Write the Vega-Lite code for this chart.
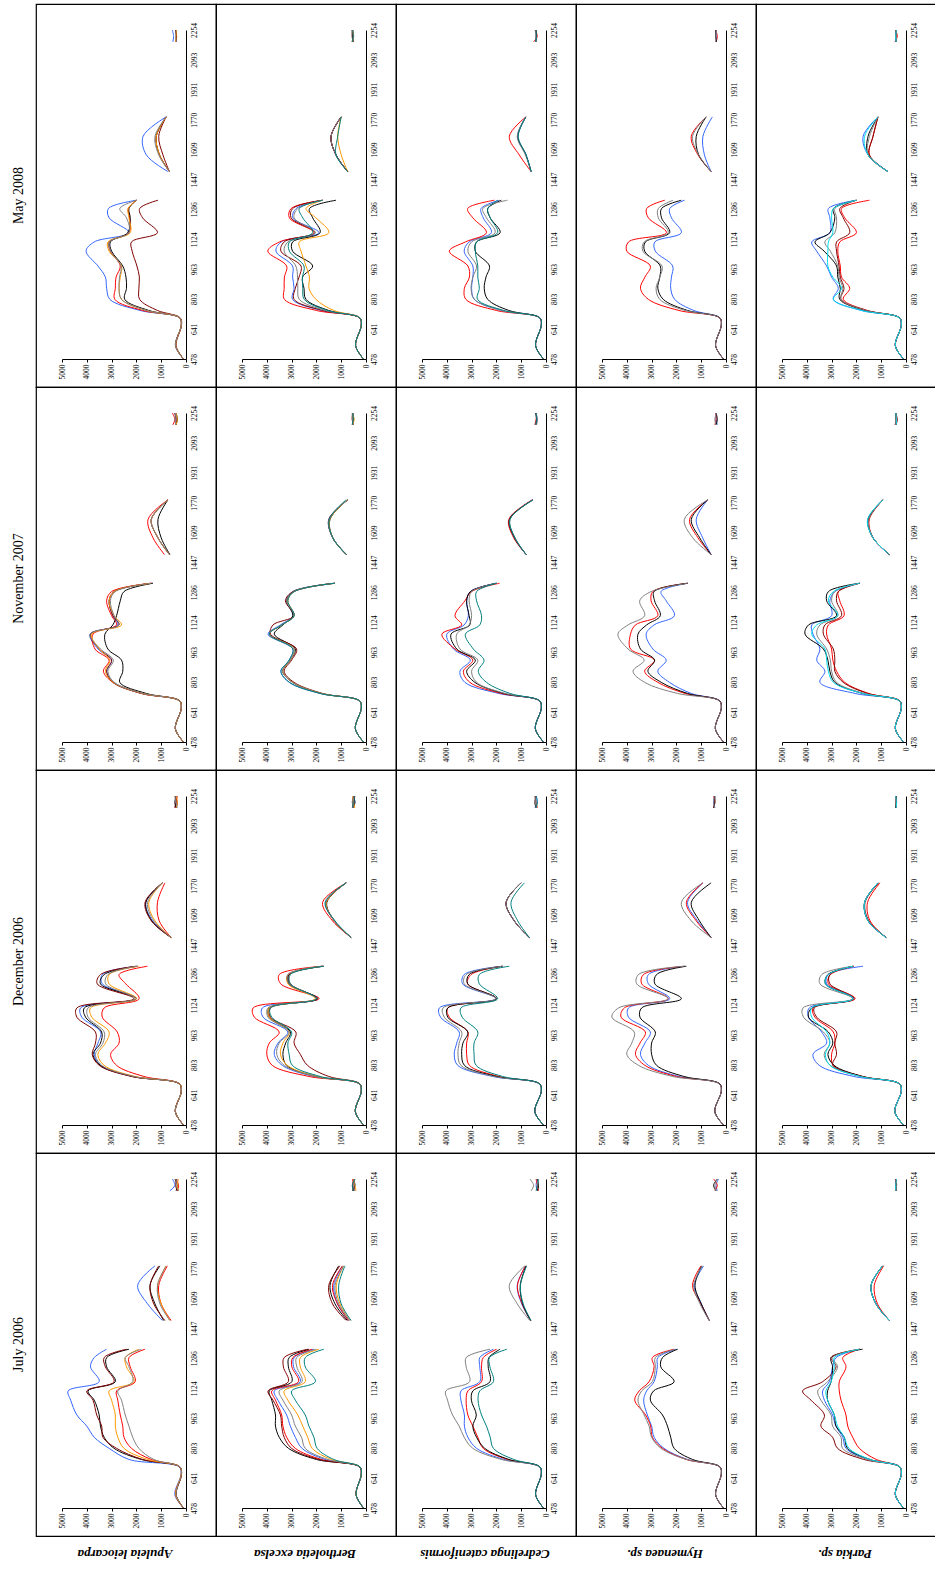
{
"$schema": "https://vega.github.io/schema/vega-lite/v6.json",
"padding": {"left": 2, "top": 3, "right": 0, "bottom": 0},
"background": "white",
"config": {
  "view": {"stroke": "#000", "strokeWidth": 1.2},
  "facet": {"spacing": 0},
  "concat": {"spacing": 0},
  "text": {"font": "Liberation Serif", "color": "#000"}
},
"datasets": {
"dates": [{"d":"M","label":"May 2008"},{"d":"N","label":"November 2007"},{"d":"D","label":"December 2006"},{"d":"J","label":"July 2006"}],
"species": [{"s":"A","label":"Apuleia  leiocarpa"},{"s":"B","label":"Bertholetia excelsa"},{"s":"C","label":"Cedrelinga cateniformis"},{"s":"H","label":"Hymenaea sp."},{"s":"P","label":"Parkia sp."}],
"spectra": [
{"d":"M","s":"A","w":478,"g":1,"b":100,"r":100,"o":100,"a":100,"k":100,"m":100},
{"d":"M","s":"A","w":550,"g":1,"b":430,"r":420,"o":420,"a":420,"k":420,"m":400},
{"d":"M","s":"A","w":660,"g":1,"b":190,"r":190,"o":190,"a":190,"k":190,"m":180},
{"d":"M","s":"A","w":700,"g":1,"b":260,"r":250,"o":250,"a":250,"k":250,"m":230},
{"d":"M","s":"A","w":740,"g":1,"b":1850,"r":1750,"o":1600,"a":1600,"k":1500,"m":1150},
{"d":"M","s":"A","w":800,"g":1,"b":3070,"r":2870,"o":2600,"a":2600,"k":2470,"m":1870},
{"d":"M","s":"A","w":860,"g":1,"b":3200,"r":2850,"o":2700,"a":2700,"k":2400,"m":1900},
{"d":"M","s":"A","w":920,"g":1,"b":3250,"r":2820,"o":2650,"a":2680,"k":2420,"m":1880},
{"d":"M","s":"A","w":980,"g":1,"b":3550,"r":2650,"o":2600,"a":2620,"k":2550,"m":1980},
{"d":"M","s":"A","w":1060,"g":1,"b":4030,"r":3050,"o":3100,"a":3050,"k":3000,"m":2170},
{"d":"M","s":"A","w":1110,"g":1,"b":3700,"r":3100,"o":3150,"a":3100,"k":3050,"m":2200},
{"d":"M","s":"A","w":1160,"g":1,"b":2300,"r":2300,"o":2250,"a":2300,"k":2350,"m":1150},
{"d":"M","s":"A","w":1240,"g":1,"b":3100,"r":2270,"o":2300,"a":2400,"k":2250,"m":1750},
{"d":"M","s":"A","w":1290,"g":1,"b":3130,"r":2330,"o":2330,"a":2670,"k":2300,"m":1870},
{"d":"M","s":"A","w":1335,"g":1,"b":2000,"r":2000,"o":2000,"a":2000,"k":2000,"m":1130},
{"d":"M","s":"A","w":1490,"g":2,"b":730,"r":670,"o":670,"a":670,"k":670,"m":670},
{"d":"M","s":"A","w":1580,"g":2,"b":1600,"r":1070,"o":1070,"a":1100,"k":1070,"m":930},
{"d":"M","s":"A","w":1680,"g":2,"b":1730,"r":1200,"o":1200,"a":1250,"k":1200,"m":1100},
{"d":"M","s":"A","w":1785,"g":2,"b":800,"r":800,"o":800,"a":800,"k":800,"m":800},
{"d":"M","s":"A","w":2190,"g":3,"b":530,"r":400,"o":420,"a":380,"k":400,"m":400},
{"d":"M","s":"A","w":2220,"g":3,"b":500,"r":380,"o":400,"a":420,"k":380,"m":380},
{"d":"M","s":"A","w":2254,"g":3,"b":550,"r":420,"o":380,"a":400,"k":420,"m":420},

{"d":"M","s":"B","w":478,"g":1,"r":100,"b":100,"m":100,"a":100,"t":100,"k":100,"o":100},
{"d":"M","s":"B","w":550,"g":1,"r":420,"b":420,"m":420,"a":420,"t":420,"k":420,"o":420},
{"d":"M","s":"B","w":660,"g":1,"r":190,"b":190,"m":190,"a":190,"t":190,"k":190,"o":190},
{"d":"M","s":"B","w":700,"g":1,"r":260,"b":250,"m":250,"a":250,"t":250,"k":250,"o":240},
{"d":"M","s":"B","w":740,"g":1,"r":2000,"b":1800,"m":1750,"a":1650,"t":1550,"k":1500,"o":1300},
{"d":"M","s":"B","w":800,"g":1,"r":3290,"b":2960,"m":2900,"a":2690,"t":2490,"k":2420,"o":2020},
{"d":"M","s":"B","w":860,"g":1,"r":3300,"b":2900,"m":2850,"a":2750,"t":2550,"k":2500,"o":2300},
{"d":"M","s":"B","w":920,"g":1,"r":3290,"b":2960,"m":2700,"a":2760,"t":2560,"k":2560,"o":2280},
{"d":"M","s":"B","w":980,"g":1,"r":3200,"b":2960,"m":2620,"a":2830,"t":2500,"k":2150,"o":2420},
{"d":"M","s":"B","w":1060,"g":1,"r":3960,"b":3630,"m":3430,"a":3300,"t":3090,"k":2960,"o":2620},
{"d":"M","s":"B","w":1110,"g":1,"r":3490,"b":3420,"m":3300,"a":3150,"t":3090,"k":2960,"o":2690},
{"d":"M","s":"B","w":1160,"g":1,"r":2100,"b":1900,"m":2050,"a":2050,"t":2150,"k":1850,"o":1500},
{"d":"M","s":"B","w":1240,"g":1,"r":3090,"b":2950,"m":3020,"a":2900,"t":2550,"k":2150,"o":2020},
{"d":"M","s":"B","w":1290,"g":1,"r":3020,"b":2820,"m":2960,"a":2750,"t":2690,"k":2280,"o":2420},
{"d":"M","s":"B","w":1335,"g":1,"r":1750,"b":1750,"m":1750,"a":1750,"t":1750,"k":1210,"o":1750},
{"d":"M","s":"B","w":1490,"g":2,"r":740,"b":740,"m":740,"a":740,"t":740,"k":740,"o":740},
{"d":"M","s":"B","w":1580,"g":2,"r":1210,"b":1210,"m":1210,"a":1210,"t":1210,"k":1210,"o":1000},
{"d":"M","s":"B","w":1680,"g":2,"r":1410,"b":1410,"m":1410,"a":1410,"t":1140,"k":1410,"o":1140},
{"d":"M","s":"B","w":1785,"g":2,"r":1000,"b":1000,"m":1000,"a":1000,"t":1000,"k":1000,"o":1000},
{"d":"M","s":"B","w":2190,"g":3,"r":560,"b":540,"m":520,"a":540,"t":560,"k":500,"o":540},
{"d":"M","s":"B","w":2220,"g":3,"r":520,"b":500,"m":560,"a":500,"t":520,"k":540,"o":500},
{"d":"M","s":"B","w":2254,"g":3,"r":540,"b":560,"m":540,"a":520,"t":540,"k":560,"o":560},

{"d":"M","s":"C","w":478,"g":1,"r":100,"b":100,"a":100,"t":100,"k":100},
{"d":"M","s":"C","w":550,"g":1,"r":420,"b":420,"a":420,"t":420,"k":420},
{"d":"M","s":"C","w":660,"g":1,"r":190,"b":190,"a":190,"t":190,"k":190},
{"d":"M","s":"C","w":700,"g":1,"r":260,"b":250,"a":250,"t":250,"k":240},
{"d":"M","s":"C","w":740,"g":1,"r":2000,"b":1800,"a":1800,"t":1700,"k":1500},
{"d":"M","s":"C","w":800,"g":1,"r":3230,"b":2890,"a":2890,"t":2760,"k":2350},
{"d":"M","s":"C","w":860,"g":1,"r":3290,"b":3000,"a":3020,"t":2690,"k":2490},
{"d":"M","s":"C","w":920,"g":1,"r":3090,"b":2950,"a":2950,"t":2750,"k":2420},
{"d":"M","s":"C","w":980,"g":1,"r":3150,"b":2950,"a":2800,"t":2750,"k":2280},
{"d":"M","s":"C","w":1060,"g":1,"r":3900,"b":3300,"a":3150,"t":2850,"k":2850},
{"d":"M","s":"C","w":1110,"g":1,"r":3250,"b":3100,"a":3000,"t":2800,"k":2800},
{"d":"M","s":"C","w":1160,"g":1,"r":2400,"b":2200,"a":2050,"t":1950,"k":1850},
{"d":"M","s":"C","w":1240,"g":1,"r":2950,"b":2530,"a":2400,"t":2250,"k":2250},
{"d":"M","s":"C","w":1290,"g":1,"r":3160,"b":2620,"a":2550,"t":2350,"k":2350},
{"d":"M","s":"C","w":1335,"g":1,"r":2080,"b":1880,"a":1550,"t":1950,"k":1800},
{"d":"M","s":"C","w":1490,"g":2,"r":600,"b":600,"a":600,"t":600,"k":600},
{"d":"M","s":"C","w":1580,"g":2,"r":1080,"b":810,"a":830,"t":800,"k":810},
{"d":"M","s":"C","w":1680,"g":2,"r":1480,"b":1140,"a":1160,"t":1120,"k":1140},
{"d":"M","s":"C","w":1785,"g":2,"r":810,"b":810,"a":810,"t":810,"k":810},
{"d":"M","s":"C","w":2190,"g":3,"r":500,"b":400,"a":380,"t":420,"k":400},
{"d":"M","s":"C","w":2220,"g":3,"r":350,"b":380,"a":420,"t":380,"k":400},
{"d":"M","s":"C","w":2254,"g":3,"r":450,"b":420,"a":400,"t":420,"k":380},

{"d":"M","s":"H","w":478,"g":1,"r":100,"a":100,"k":100,"b":100},
{"d":"M","s":"H","w":550,"g":1,"r":420,"a":420,"k":420,"b":420},
{"d":"M","s":"H","w":660,"g":1,"r":190,"a":190,"k":190,"b":190},
{"d":"M","s":"H","w":700,"g":1,"r":260,"a":250,"k":250,"b":240},
{"d":"M","s":"H","w":740,"g":1,"r":1900,"a":1650,"k":1550,"b":1300},
{"d":"M","s":"H","w":800,"g":1,"r":3130,"a":2670,"k":2530,"b":2070},
{"d":"M","s":"H","w":860,"g":1,"r":3450,"a":2820,"k":2750,"b":2230},
{"d":"M","s":"H","w":920,"g":1,"r":3270,"a":2670,"k":2670,"b":2200},
{"d":"M","s":"H","w":980,"g":1,"r":3050,"a":2580,"k":2650,"b":2150},
{"d":"M","s":"H","w":1060,"g":1,"r":4000,"a":3350,"k":3280,"b":2850},
{"d":"M","s":"H","w":1110,"g":1,"r":3930,"a":3300,"k":3250,"b":2870},
{"d":"M","s":"H","w":1160,"g":1,"r":2400,"a":2330,"k":2270,"b":1800},
{"d":"M","s":"H","w":1240,"g":1,"r":3130,"a":2730,"k":2600,"b":2200},
{"d":"M","s":"H","w":1290,"g":1,"r":3200,"a":2730,"k":2600,"b":2270},
{"d":"M","s":"H","w":1335,"g":1,"r":2470,"a":2130,"k":1800,"b":1670},
{"d":"M","s":"H","w":1490,"g":2,"r":600,"a":600,"k":600,"b":600},
{"d":"M","s":"H","w":1580,"g":2,"r":1130,"a":1100,"k":1100,"b":870},
{"d":"M","s":"H","w":1680,"g":2,"r":1400,"a":1350,"k":1200,"b":930},
{"d":"M","s":"H","w":1785,"g":2,"r":800,"a":800,"k":800,"b":550},
{"d":"M","s":"H","w":2190,"g":3,"r":400,"a":420,"k":380,"b":400},
{"d":"M","s":"H","w":2220,"g":3,"r":350,"a":400,"k":420,"b":380},
{"d":"M","s":"H","w":2254,"g":3,"r":420,"a":380,"k":400,"b":420},

{"d":"M","s":"P","w":478,"g":1,"b":100,"c":100,"k":100,"a":100,"m":100,"r":100},
{"d":"M","s":"P","w":550,"g":1,"b":430,"c":430,"k":430,"a":430,"m":430,"r":430},
{"d":"M","s":"P","w":660,"g":1,"b":190,"c":190,"k":190,"a":190,"m":190,"r":190},
{"d":"M","s":"P","w":700,"g":1,"b":260,"c":260,"k":260,"a":260,"m":260,"r":260},
{"d":"M","s":"P","w":740,"g":1,"b":1800,"c":1800,"k":1650,"a":1600,"m":1600,"r":1550},
{"d":"M","s":"P","w":800,"g":1,"b":2930,"c":2930,"k":2670,"a":2620,"m":2620,"r":2530},
{"d":"M","s":"P","w":860,"g":1,"b":2730,"c":2600,"k":2650,"a":2550,"m":2500,"r":2270},
{"d":"M","s":"P","w":920,"g":1,"b":3000,"c":2950,"k":2750,"a":2700,"m":2650,"r":2600},
{"d":"M","s":"P","w":980,"g":1,"b":3200,"c":3150,"k":2800,"a":2750,"m":2700,"r":2650},
{"d":"M","s":"P","w":1060,"g":1,"b":3600,"c":3150,"k":3300,"a":3050,"m":2800,"r":2750},
{"d":"M","s":"P","w":1110,"g":1,"b":3800,"c":3130,"k":3670,"a":3270,"m":2800,"r":2670},
{"d":"M","s":"P","w":1160,"g":1,"b":3070,"c":2950,"k":3070,"a":2870,"m":2270,"r":2000},
{"d":"M","s":"P","w":1240,"g":1,"b":3070,"c":3000,"k":2870,"a":2800,"m":2530,"r":2470},
{"d":"M","s":"P","w":1290,"g":1,"b":3130,"c":2930,"k":2930,"a":2870,"m":2670,"r":2600},
{"d":"M","s":"P","w":1335,"g":1,"b":2000,"c":2000,"k":2000,"a":2000,"m":2000,"r":1470},
{"d":"M","s":"P","w":1490,"g":2,"b":730,"c":730,"k":730,"a":730,"m":730,"r":730},
{"d":"M","s":"P","w":1580,"g":2,"b":1530,"c":1530,"k":1530,"a":1530,"m":1480,"r":1480},
{"d":"M","s":"P","w":1680,"g":2,"b":1730,"c":1670,"k":1530,"a":1470,"m":1330,"r":1330},
{"d":"M","s":"P","w":1785,"g":2,"b":1130,"c":1130,"k":1130,"a":1130,"m":1130,"r":1130},
{"d":"M","s":"P","w":2190,"g":3,"b":420,"c":400,"k":380,"a":400,"m":420,"r":450},
{"d":"M","s":"P","w":2220,"g":3,"b":380,"c":420,"k":400,"a":380,"m":400,"r":350},
{"d":"M","s":"P","w":2254,"g":3,"b":400,"c":380,"k":420,"a":420,"m":380,"r":420},

{"d":"N","s":"A","w":478,"g":1,"r":100,"o":100,"b":100,"a":100,"m":100,"k":100},
{"d":"N","s":"A","w":550,"g":1,"r":430,"o":430,"b":430,"a":430,"m":430,"k":430},
{"d":"N","s":"A","w":660,"g":1,"r":190,"o":190,"b":190,"a":190,"m":190,"k":190},
{"d":"N","s":"A","w":700,"g":1,"r":260,"o":260,"b":260,"a":260,"m":260,"k":250},
{"d":"N","s":"A","w":740,"g":1,"r":1800,"o":1750,"b":1750,"a":1750,"m":1800,"k":1600},
{"d":"N","s":"A","w":800,"g":1,"r":2950,"o":2930,"b":2900,"a":2900,"m":2950,"k":2670},
{"d":"N","s":"A","w":860,"g":1,"r":3330,"o":3250,"b":3200,"a":3150,"m":3200,"k":2550},
{"d":"N","s":"A","w":920,"g":1,"r":3100,"o":3070,"b":3000,"a":2930,"m":3000,"k":2600},
{"d":"N","s":"A","w":980,"g":1,"r":3670,"o":3500,"b":3550,"a":3450,"m":3500,"k":3150},
{"d":"N","s":"A","w":1060,"g":1,"r":3750,"o":3800,"b":3870,"a":3870,"m":3850,"k":3270},
{"d":"N","s":"A","w":1110,"g":1,"r":2800,"o":2600,"b":2750,"a":2700,"m":2700,"k":2950},
{"d":"N","s":"A","w":1160,"g":1,"r":3000,"o":2900,"b":2950,"a":2900,"m":2950,"k":2800},
{"d":"N","s":"A","w":1240,"g":1,"r":3200,"o":3100,"b":3100,"a":3050,"m":3100,"k":2650},
{"d":"N","s":"A","w":1290,"g":1,"r":3000,"o":2900,"b":2900,"a":2850,"m":2900,"k":2500},
{"d":"N","s":"A","w":1335,"g":1,"r":1400,"o":1400,"b":1350,"a":1400,"m":1400,"k":1330},
{"d":"N","s":"A","w":1490,"g":2,"r":870,"o":670,"b":670,"a":670,"m":670,"k":650},
{"d":"N","s":"A","w":1580,"g":2,"r":1330,"o":1130,"b":1130,"a":1130,"m":1130,"k":1000},
{"d":"N","s":"A","w":1680,"g":2,"r":1530,"o":1400,"b":1400,"a":1400,"m":1400,"k":1130},
{"d":"N","s":"A","w":1785,"g":2,"r":730,"o":730,"b":730,"a":730,"m":730,"k":730},
{"d":"N","s":"A","w":2190,"g":3,"r":530,"o":400,"b":400,"a":400,"m":400,"k":400},
{"d":"N","s":"A","w":2220,"g":3,"r":450,"o":350,"b":400,"a":450,"m":400,"k":350},
{"d":"N","s":"A","w":2254,"g":3,"r":550,"o":400,"b":450,"a":400,"m":450,"k":400},

{"d":"N","s":"B","w":478,"g":1,"b":100,"t":100,"a":100,"o":100,"m":100,"k":100},
{"d":"N","s":"B","w":550,"g":1,"b":430,"t":430,"a":430,"o":430,"m":430,"k":430},
{"d":"N","s":"B","w":660,"g":1,"b":190,"t":190,"a":190,"o":190,"m":190,"k":190},
{"d":"N","s":"B","w":700,"g":1,"b":260,"t":260,"a":260,"o":260,"m":260,"k":260},
{"d":"N","s":"B","w":740,"g":1,"b":1850,"t":1850,"a":1800,"o":1800,"m":1750,"k":1800},
{"d":"N","s":"B","w":800,"g":1,"b":3090,"t":3090,"a":2960,"o":2960,"m":2900,"k":2960},
{"d":"N","s":"B","w":860,"g":1,"b":3430,"t":3430,"a":3360,"o":3360,"m":3300,"k":3360},
{"d":"N","s":"B","w":920,"g":1,"b":3100,"t":3100,"a":3050,"o":3050,"m":3000,"k":3050},
{"d":"N","s":"B","w":980,"g":1,"b":2950,"t":2950,"a":2900,"o":2900,"m":2800,"k":2850},
{"d":"N","s":"B","w":1060,"g":1,"b":3950,"t":3900,"a":3900,"o":3900,"m":3850,"k":3700},
{"d":"N","s":"B","w":1110,"g":1,"b":3450,"t":3400,"a":3400,"o":3400,"m":3750,"k":3350},
{"d":"N","s":"B","w":1160,"g":1,"b":2950,"t":2900,"a":2900,"o":2900,"m":2900,"k":2950},
{"d":"N","s":"B","w":1240,"g":1,"b":3200,"t":3150,"a":3200,"o":3150,"m":3250,"k":3200},
{"d":"N","s":"B","w":1290,"g":1,"b":2950,"t":2900,"a":2900,"o":2900,"m":2950,"k":2900},
{"d":"N","s":"B","w":1335,"g":1,"b":1300,"t":1250,"a":1250,"o":1250,"m":1250,"k":1250},
{"d":"N","s":"B","w":1490,"g":2,"b":800,"t":800,"a":800,"o":800,"m":800,"k":780},
{"d":"N","s":"B","w":1580,"g":2,"b":1340,"t":1340,"a":1340,"o":1340,"m":1340,"k":1340},
{"d":"N","s":"B","w":1680,"g":2,"b":1500,"t":1480,"a":1480,"o":1460,"m":1500,"k":1450},
{"d":"N","s":"B","w":1785,"g":2,"b":740,"t":800,"a":740,"o":740,"m":740,"k":740},
{"d":"N","s":"B","w":2190,"g":3,"b":540,"t":560,"a":520,"o":540,"m":500,"k":550},
{"d":"N","s":"B","w":2220,"g":3,"b":500,"t":520,"a":540,"o":480,"m":560,"k":500},
{"d":"N","s":"B","w":2254,"g":3,"b":560,"t":540,"a":520,"o":560,"m":540,"k":520},

{"d":"N","s":"C","w":478,"g":1,"b":100,"r":100,"k":100,"a":100,"t":100},
{"d":"N","s":"C","w":550,"g":1,"b":430,"r":430,"k":430,"a":430,"t":430},
{"d":"N","s":"C","w":660,"g":1,"b":190,"r":190,"k":190,"a":190,"t":190},
{"d":"N","s":"C","w":700,"g":1,"b":260,"r":260,"k":260,"a":260,"t":250},
{"d":"N","s":"C","w":740,"g":1,"b":1900,"r":1800,"k":1700,"a":1650,"t":1450},
{"d":"N","s":"C","w":800,"g":1,"b":3270,"r":3070,"k":2870,"a":2800,"t":2400},
{"d":"N","s":"C","w":860,"g":1,"b":3470,"r":3330,"k":3200,"a":3000,"t":2730},
{"d":"N","s":"C","w":920,"g":1,"b":3050,"r":2950,"k":2850,"a":2750,"t":2500},
{"d":"N","s":"C","w":980,"g":1,"b":3730,"r":3670,"k":3600,"a":3470,"t":2930},
{"d":"N","s":"C","w":1060,"g":1,"b":4000,"r":4200,"k":3830,"a":3600,"t":3250},
{"d":"N","s":"C","w":1110,"g":1,"b":3300,"r":3400,"k":3070,"a":3100,"t":2670},
{"d":"N","s":"C","w":1160,"g":1,"b":3130,"r":3670,"k":3100,"a":3000,"t":2600},
{"d":"N","s":"C","w":1240,"g":1,"b":3200,"r":3270,"k":3200,"a":3100,"t":2800},
{"d":"N","s":"C","w":1290,"g":1,"b":3050,"r":3000,"k":3050,"a":3000,"t":2800},
{"d":"N","s":"C","w":1335,"g":1,"b":2000,"r":1870,"k":2000,"a":2000,"t":2000},
{"d":"N","s":"C","w":1490,"g":2,"b":800,"r":800,"k":800,"a":800,"t":800},
{"d":"N","s":"C","w":1580,"g":2,"b":1270,"r":1300,"k":1270,"a":1250,"t":1250},
{"d":"N","s":"C","w":1680,"g":2,"b":1470,"r":1500,"k":1470,"a":1450,"t":1450},
{"d":"N","s":"C","w":1785,"g":2,"b":530,"r":560,"k":530,"a":530,"t":530},
{"d":"N","s":"C","w":2190,"g":3,"b":400,"r":450,"k":400,"a":380,"t":420},
{"d":"N","s":"C","w":2220,"g":3,"b":350,"r":400,"k":380,"a":350,"t":380},
{"d":"N","s":"C","w":2254,"g":3,"b":420,"r":380,"k":420,"a":400,"t":400},

{"d":"N","s":"H","w":478,"g":1,"a":100,"r":100,"k":100,"b":100},
{"d":"N","s":"H","w":550,"g":1,"a":430,"r":430,"k":430,"b":430},
{"d":"N","s":"H","w":660,"g":1,"a":190,"r":190,"k":190,"b":190},
{"d":"N","s":"H","w":700,"g":1,"a":270,"r":260,"k":260,"b":250},
{"d":"N","s":"H","w":740,"g":1,"a":1950,"r":1650,"k":1550,"b":1400},
{"d":"N","s":"H","w":800,"g":1,"a":3280,"r":2750,"k":2610,"b":2280},
{"d":"N","s":"H","w":860,"g":1,"a":3750,"r":3280,"k":3150,"b":2750},
{"d":"N","s":"H","w":920,"g":1,"a":3300,"r":2880,"k":2880,"b":2410},
{"d":"N","s":"H","w":980,"g":1,"a":3950,"r":3850,"k":3450,"b":2950},
{"d":"N","s":"H","w":1060,"g":1,"a":4360,"r":3850,"k":3550,"b":3220},
{"d":"N","s":"H","w":1110,"g":1,"a":3950,"r":3650,"k":3200,"b":2900},
{"d":"N","s":"H","w":1160,"g":1,"a":3280,"r":2750,"k":2650,"b":2080},
{"d":"N","s":"H","w":1240,"g":1,"a":3480,"r":3020,"k":2880,"b":2410},
{"d":"N","s":"H","w":1290,"g":1,"a":3020,"r":2950,"k":2900,"b":2620},
{"d":"N","s":"H","w":1335,"g":1,"a":1540,"r":1540,"k":1540,"b":1540},
{"d":"N","s":"H","w":1490,"g":2,"a":600,"r":600,"k":600,"b":600},
{"d":"N","s":"H","w":1580,"g":2,"a":1340,"r":1130,"k":1060,"b":940},
{"d":"N","s":"H","w":1680,"g":2,"a":1680,"r":1470,"k":1400,"b":1200},
{"d":"N","s":"H","w":1785,"g":2,"a":740,"r":740,"k":740,"b":740},
{"d":"N","s":"H","w":2190,"g":3,"a":400,"r":450,"k":400,"b":350},
{"d":"N","s":"H","w":2220,"g":3,"a":450,"r":400,"k":350,"b":400},
{"d":"N","s":"H","w":2254,"g":3,"a":380,"r":420,"k":400,"b":380},

{"d":"N","s":"P","w":478,"g":1,"b":100,"k":100,"c":100,"a":100,"r":100,"m":100},
{"d":"N","s":"P","w":550,"g":1,"b":430,"k":430,"c":430,"a":430,"r":430,"m":430},
{"d":"N","s":"P","w":660,"g":1,"b":190,"k":190,"c":190,"a":190,"r":190,"m":190},
{"d":"N","s":"P","w":700,"g":1,"b":270,"k":260,"c":260,"a":260,"r":250,"m":250},
{"d":"N","s":"P","w":740,"g":1,"b":2050,"k":1750,"c":1750,"a":1700,"r":1500,"m":1550},
{"d":"N","s":"P","w":800,"g":1,"b":3470,"k":2870,"c":2930,"a":2800,"r":2470,"m":2530},
{"d":"N","s":"P","w":860,"g":1,"b":3270,"k":3070,"c":3130,"a":3000,"r":2800,"m":2870},
{"d":"N","s":"P","w":920,"g":1,"b":3600,"k":3150,"c":3200,"a":3050,"r":2950,"m":2870},
{"d":"N","s":"P","w":980,"g":1,"b":3470,"k":3330,"c":3270,"a":3200,"r":3000,"m":2930},
{"d":"N","s":"P","w":1060,"g":1,"b":3750,"k":4070,"c":3800,"a":3600,"r":3200,"m":3330},
{"d":"N","s":"P","w":1110,"g":1,"b":3800,"k":3930,"c":3600,"a":3470,"r":3130,"m":3270},
{"d":"N","s":"P","w":1160,"g":1,"b":3000,"k":2800,"c":2750,"a":2750,"r":2500,"m":2600},
{"d":"N","s":"P","w":1240,"g":1,"b":3070,"k":3200,"c":3130,"a":3000,"r":2670,"m":2800},
{"d":"N","s":"P","w":1290,"g":1,"b":2870,"k":3130,"c":2930,"a":2870,"r":2730,"m":2730},
{"d":"N","s":"P","w":1335,"g":1,"b":1870,"k":1870,"c":1870,"a":1870,"r":1870,"m":1870},
{"d":"N","s":"P","w":1490,"g":2,"b":670,"k":670,"c":670,"a":670,"r":670,"m":670},
{"d":"N","s":"P","w":1580,"g":2,"b":1330,"k":1330,"c":1330,"a":1330,"r":1330,"m":1330},
{"d":"N","s":"P","w":1680,"g":2,"b":1530,"k":1530,"c":1550,"a":1500,"r":1480,"m":1500},
{"d":"N","s":"P","w":1785,"g":2,"b":930,"k":930,"c":930,"a":930,"r":930,"m":930},
{"d":"N","s":"P","w":2190,"g":3,"b":420,"k":380,"c":400,"a":400,"r":450,"m":400},
{"d":"N","s":"P","w":2220,"g":3,"b":380,"k":420,"c":380,"a":420,"r":380,"m":350},
{"d":"N","s":"P","w":2254,"g":3,"b":400,"k":400,"c":420,"a":380,"r":420,"m":420},

{"d":"D","s":"A","w":478,"g":1,"m":100,"b":100,"k":100,"a":100,"o":100,"r":100},
{"d":"D","s":"A","w":550,"g":1,"m":430,"b":430,"k":430,"a":430,"o":430,"r":430},
{"d":"D","s":"A","w":660,"g":1,"m":190,"b":190,"k":190,"a":190,"o":190,"r":190},
{"d":"D","s":"A","w":700,"g":1,"m":270,"b":270,"k":270,"a":260,"o":260,"r":250},
{"d":"D","s":"A","w":740,"g":1,"m":2200,"b":2150,"k":2150,"a":2100,"o":2050,"r":1700},
{"d":"D","s":"A","w":800,"g":1,"m":3500,"b":3450,"k":3450,"a":3400,"o":3300,"r":2800},
{"d":"D","s":"A","w":860,"g":1,"m":3780,"b":3700,"k":3750,"a":3650,"o":3550,"r":3040},
{"d":"D","s":"A","w":920,"g":1,"m":3650,"b":3550,"k":3450,"a":3350,"o":3250,"r":2700},
{"d":"D","s":"A","w":980,"g":1,"m":3650,"b":3440,"k":3400,"a":3300,"o":3100,"r":2770},
{"d":"D","s":"A","w":1060,"g":1,"m":4400,"b":4200,"k":4050,"a":3950,"o":3800,"r":3375},
{"d":"D","s":"A","w":1110,"g":1,"m":4400,"b":4250,"k":4100,"a":3950,"o":3850,"r":3300},
{"d":"D","s":"A","w":1160,"g":1,"m":2100,"b":2000,"k":2000,"a":2050,"o":2000,"r":1890},
{"d":"D","s":"A","w":1240,"g":1,"m":3580,"b":3375,"k":3450,"a":3240,"o":3100,"r":2430},
{"d":"D","s":"A","w":1290,"g":1,"m":3450,"b":3375,"k":3300,"a":3150,"o":3100,"r":2700},
{"d":"D","s":"A","w":1335,"g":1,"m":2000,"b":2000,"k":1950,"a":1950,"o":1900,"r":1550},
{"d":"D","s":"A","w":1490,"g":2,"m":600,"b":600,"k":600,"a":600,"o":600,"r":600},
{"d":"D","s":"A","w":1580,"g":2,"m":1400,"b":1350,"k":1380,"a":1300,"o":1250,"r":1080},
{"d":"D","s":"A","w":1680,"g":2,"m":1650,"b":1620,"k":1620,"a":1550,"o":1500,"r":1150},
{"d":"D","s":"A","w":1785,"g":2,"m":950,"b":950,"k":950,"a":950,"o":950,"r":850},
{"d":"D","s":"A","w":2190,"g":3,"m":400,"b":450,"k":400,"a":350,"o":400,"r":450},
{"d":"D","s":"A","w":2220,"g":3,"m":350,"b":400,"k":450,"a":400,"o":350,"r":400},
{"d":"D","s":"A","w":2254,"g":3,"m":450,"b":400,"k":400,"a":450,"o":400,"r":350},

{"d":"D","s":"B","w":478,"g":1,"r":100,"b":100,"a":100,"o":100,"k":100,"t":100,"m":100},
{"d":"D","s":"B","w":550,"g":1,"r":430,"b":430,"a":430,"o":430,"k":430,"t":430,"m":430},
{"d":"D","s":"B","w":660,"g":1,"r":190,"b":190,"a":190,"o":190,"k":190,"t":190,"m":190},
{"d":"D","s":"B","w":700,"g":1,"r":280,"b":270,"a":270,"o":260,"k":260,"t":260,"m":240},
{"d":"D","s":"B","w":740,"g":1,"r":2300,"b":2100,"a":2050,"o":2000,"k":2000,"t":1850,"m":1500},
{"d":"D","s":"B","w":800,"g":1,"r":3780,"b":3375,"a":3300,"o":3170,"k":3200,"t":2970,"m":2360},
{"d":"D","s":"B","w":860,"g":1,"r":4000,"b":3700,"a":3600,"o":3450,"k":3350,"t":3100,"m":2650},
{"d":"D","s":"B","w":920,"g":1,"r":3900,"b":3550,"a":3500,"o":3350,"k":3240,"t":3150,"m":2900},
{"d":"D","s":"B","w":980,"g":1,"r":3500,"b":3150,"a":3100,"o":3100,"k":3050,"t":3000,"m":2830},
{"d":"D","s":"B","w":1060,"g":1,"r":4500,"b":4150,"a":3950,"o":3900,"k":3900,"t":3800,"m":3850},
{"d":"D","s":"B","w":1110,"g":1,"r":4550,"b":4180,"a":3950,"o":3900,"k":3900,"t":3850,"m":3850},
{"d":"D","s":"B","w":1160,"g":1,"r":1890,"b":2000,"a":2000,"o":2050,"k":1950,"t":2000,"m":2000},
{"d":"D","s":"B","w":1240,"g":1,"r":3440,"b":3100,"a":3100,"o":3150,"k":3100,"t":3050,"m":3050},
{"d":"D","s":"B","w":1290,"g":1,"r":3500,"b":3150,"a":3150,"o":3150,"k":3100,"t":3050,"m":3100},
{"d":"D","s":"B","w":1335,"g":1,"r":1750,"b":1750,"a":1800,"o":1750,"k":1700,"t":1700,"m":1750},
{"d":"D","s":"B","w":1490,"g":2,"r":600,"b":600,"a":600,"o":600,"k":600,"t":600,"m":600},
{"d":"D","s":"B","w":1580,"g":2,"r":1350,"b":1280,"a":1280,"o":1280,"k":1280,"t":1250,"m":1280},
{"d":"D","s":"B","w":1680,"g":2,"r":1750,"b":1620,"a":1620,"o":1600,"k":1580,"t":1650,"m":1600},
{"d":"D","s":"B","w":1785,"g":2,"r":800,"b":800,"a":800,"o":800,"k":800,"t":800,"m":800},
{"d":"D","s":"B","w":2190,"g":3,"r":550,"b":500,"a":500,"o":450,"k":500,"t":550,"m":500},
{"d":"D","s":"B","w":2220,"g":3,"r":500,"b":450,"a":550,"o":500,"k":450,"t":500,"m":550},
{"d":"D","s":"B","w":2254,"g":3,"r":450,"b":500,"a":500,"o":550,"k":500,"t":450,"m":500},

{"d":"D","s":"C","w":478,"g":1,"b":100,"a":100,"k":100,"r":100,"t":100},
{"d":"D","s":"C","w":550,"g":1,"b":450,"a":450,"k":450,"r":450,"t":450},
{"d":"D","s":"C","w":660,"g":1,"b":190,"a":190,"k":190,"r":190,"t":190},
{"d":"D","s":"C","w":700,"g":1,"b":270,"a":270,"k":260,"r":260,"t":250},
{"d":"D","s":"C","w":740,"g":1,"b":2150,"a":2100,"k":2000,"r":1900,"t":1750},
{"d":"D","s":"C","w":800,"g":1,"b":3560,"a":3430,"k":3290,"r":3090,"t":2820},
{"d":"D","s":"C","w":860,"g":1,"b":3700,"a":3550,"k":3400,"r":3200,"t":2900},
{"d":"D","s":"C","w":920,"g":1,"b":3600,"a":3500,"k":3350,"r":3200,"t":2900},
{"d":"D","s":"C","w":980,"g":1,"b":3500,"a":3400,"k":3150,"r":3150,"t":2750},
{"d":"D","s":"C","w":1060,"g":1,"b":4250,"a":4100,"k":3960,"r":3900,"t":3380},
{"d":"D","s":"C","w":1110,"g":1,"b":4300,"a":4150,"k":3960,"r":3960,"t":3430},
{"d":"D","s":"C","w":1160,"g":1,"b":2020,"a":2020,"k":2000,"r":2000,"t":1950},
{"d":"D","s":"C","w":1240,"g":1,"b":3360,"a":3300,"k":3160,"r":3160,"t":2690},
{"d":"D","s":"C","w":1290,"g":1,"b":3300,"a":3220,"k":3100,"r":3020,"t":2690},
{"d":"D","s":"C","w":1335,"g":1,"b":1750,"a":1750,"k":1750,"r":1750,"t":1480},
{"d":"D","s":"C","w":1490,"g":2,"b":670,"a":670,"k":670,"r":670,"t":670},
{"d":"D","s":"C","w":1580,"g":2,"b":1280,"a":1280,"k":1280,"r":1280,"t":1140},
{"d":"D","s":"C","w":1680,"g":2,"b":1610,"a":1610,"k":1610,"r":1610,"t":1410},
{"d":"D","s":"C","w":1785,"g":2,"b":1000,"a":1000,"k":1000,"r":1000,"t":870},
{"d":"D","s":"C","w":2190,"g":3,"b":450,"a":400,"k":400,"r":350,"t":400},
{"d":"D","s":"C","w":2220,"g":3,"b":350,"a":400,"k":450,"r":400,"t":350},
{"d":"D","s":"C","w":2254,"g":3,"b":400,"a":450,"k":400,"r":450,"t":400},

{"d":"D","s":"H","w":478,"g":1,"a":100,"r":100,"b":100,"k":100},
{"d":"D","s":"H","w":550,"g":1,"a":450,"r":450,"b":450,"k":450},
{"d":"D","s":"H","w":660,"g":1,"a":190,"r":190,"b":190,"k":190},
{"d":"D","s":"H","w":700,"g":1,"a":270,"r":260,"b":260,"k":250},
{"d":"D","s":"H","w":740,"g":1,"a":2150,"r":2000,"b":1900,"k":1700},
{"d":"D","s":"H","w":800,"g":1,"a":3530,"r":3270,"b":3130,"k":2800},
{"d":"D","s":"H","w":860,"g":1,"a":4000,"r":3650,"b":3450,"k":3000},
{"d":"D","s":"H","w":920,"g":1,"a":3800,"r":3470,"b":3270,"k":3000},
{"d":"D","s":"H","w":980,"g":1,"a":3700,"r":3250,"b":3050,"k":2850},
{"d":"D","s":"H","w":1060,"g":1,"a":4600,"r":4230,"b":3930,"k":3470},
{"d":"D","s":"H","w":1110,"g":1,"a":4330,"r":4100,"b":3930,"k":3400},
{"d":"D","s":"H","w":1160,"g":1,"a":2330,"r":2330,"b":2270,"k":1800},
{"d":"D","s":"H","w":1240,"g":1,"a":3600,"r":3400,"b":3130,"k":2870},
{"d":"D","s":"H","w":1290,"g":1,"a":3530,"r":3330,"b":3130,"k":2800},
{"d":"D","s":"H","w":1335,"g":1,"a":1670,"r":1670,"b":1670,"k":1600},
{"d":"D","s":"H","w":1490,"g":2,"a":600,"r":600,"b":600,"k":600},
{"d":"D","s":"H","w":1580,"g":2,"a":1400,"r":1200,"b":1150,"k":1070},
{"d":"D","s":"H","w":1680,"g":2,"a":1800,"r":1600,"b":1550,"k":1400},
{"d":"D","s":"H","w":1785,"g":2,"a":930,"r":930,"b":930,"k":600},
{"d":"D","s":"H","w":2190,"g":3,"a":450,"r":500,"b":450,"k":500},
{"d":"D","s":"H","w":2220,"g":3,"a":500,"r":450,"b":500,"k":450},
{"d":"D","s":"H","w":2254,"g":3,"a":470,"r":500,"b":450,"k":450},

{"d":"D","s":"P","w":478,"g":1,"b":100,"a":100,"c":100,"k":100,"r":100,"m":100},
{"d":"D","s":"P","w":550,"g":1,"b":450,"a":450,"c":450,"k":450,"r":450,"m":450},
{"d":"D","s":"P","w":660,"g":1,"b":190,"a":190,"c":190,"k":190,"r":190,"m":190},
{"d":"D","s":"P","w":700,"g":1,"b":270,"a":260,"c":260,"k":260,"r":260,"m":260},
{"d":"D","s":"P","w":740,"g":1,"b":2100,"a":1850,"c":1850,"k":1750,"r":1750,"m":1800},
{"d":"D","s":"P","w":800,"g":1,"b":3500,"a":3050,"c":3070,"k":2900,"r":2930,"m":2950},
{"d":"D","s":"P","w":860,"g":1,"b":3750,"a":3300,"c":3250,"k":3150,"r":3000,"m":2800},
{"d":"D","s":"P","w":920,"g":1,"b":3200,"a":3070,"c":3070,"k":2950,"r":2870,"m":2870},
{"d":"D","s":"P","w":980,"g":1,"b":3400,"a":3330,"c":3200,"k":3130,"r":2930,"m":2800},
{"d":"D","s":"P","w":1060,"g":1,"b":3930,"a":4130,"c":3800,"k":3930,"r":3670,"m":3600},
{"d":"D","s":"P","w":1110,"g":1,"b":3900,"a":4150,"c":3800,"k":3800,"r":3750,"m":3700},
{"d":"D","s":"P","w":1160,"g":1,"b":2100,"a":2150,"c":2130,"k":2150,"r":2050,"m":2100},
{"d":"D","s":"P","w":1240,"g":1,"b":3200,"a":3470,"c":3250,"k":3250,"r":3130,"m":3070},
{"d":"D","s":"P","w":1290,"g":1,"b":3130,"a":3400,"c":3130,"k":3150,"r":3050,"m":3070},
{"d":"D","s":"P","w":1335,"g":1,"b":1730,"a":2130,"c":2130,"k":2130,"r":2100,"m":2130},
{"d":"D","s":"P","w":1490,"g":2,"b":800,"a":800,"c":800,"k":800,"r":800,"m":800},
{"d":"D","s":"P","w":1580,"g":2,"b":1530,"a":1530,"c":1530,"k":1530,"r":1450,"m":1500},
{"d":"D","s":"P","w":1680,"g":2,"b":1670,"a":1670,"c":1670,"k":1670,"r":1550,"m":1650},
{"d":"D","s":"P","w":1785,"g":2,"b":1130,"a":1130,"c":1130,"k":1130,"r":1050,"m":1100},
{"d":"D","s":"P","w":2190,"g":3,"b":420,"a":380,"c":400,"k":420,"r":380,"m":400},
{"d":"D","s":"P","w":2220,"g":3,"b":380,"a":420,"c":380,"k":400,"r":420,"m":380},
{"d":"D","s":"P","w":2254,"g":3,"b":400,"a":400,"c":420,"k":380,"r":400,"m":420},

{"d":"J","s":"A","w":478,"g":1,"b":100,"k":100,"m":100,"o":100,"r":100,"a":100},
{"d":"J","s":"A","w":550,"g":1,"b":450,"k":400,"m":400,"o":420,"r":420,"a":400},
{"d":"J","s":"A","w":660,"g":1,"b":200,"k":180,"m":180,"o":190,"r":190,"a":190},
{"d":"J","s":"A","w":700,"g":1,"b":280,"k":250,"m":250,"o":250,"r":240,"a":240},
{"d":"J","s":"A","w":740,"g":1,"b":2300,"k":1800,"m":1750,"o":1550,"r":1400,"a":1300},
{"d":"J","s":"A","w":800,"g":1,"b":3100,"k":2900,"m":2800,"o":2500,"r":2200,"a":1900},
{"d":"J","s":"A","w":860,"g":1,"b":3700,"k":3300,"m":3350,"o":2750,"r":2500,"a":2150},
{"d":"J","s":"A","w":920,"g":1,"b":4000,"k":3450,"m":3400,"o":2850,"r":2550,"a":2300},
{"d":"J","s":"A","w":980,"g":1,"b":4400,"k":3500,"m":3600,"o":2850,"r":2650,"a":2450},
{"d":"J","s":"A","w":1060,"g":1,"b":4650,"k":3700,"m":3750,"o":3000,"r":2750,"a":2600},
{"d":"J","s":"A","w":1110,"g":1,"b":4750,"k":3950,"m":4000,"o":3100,"r":2800,"a":2750},
{"d":"J","s":"A","w":1160,"g":1,"b":3500,"k":2850,"m":2900,"o":2100,"r":2050,"a":2150},
{"d":"J","s":"A","w":1240,"g":1,"b":3850,"k":3200,"m":3250,"o":2400,"r":2250,"a":2300},
{"d":"J","s":"A","w":1290,"g":1,"b":3700,"k":3200,"m":3300,"o":2450,"r":2300,"a":2450},
{"d":"J","s":"A","w":1335,"g":1,"b":3200,"k":2300,"m":2400,"o":1900,"r":1650,"a":1800},
{"d":"J","s":"A","w":1490,"g":2,"b":950,"k":900,"m":850,"o":650,"r":600,"a":650},
{"d":"J","s":"A","w":1580,"g":2,"b":1550,"k":1250,"m":1300,"o":1000,"r":1000,"a":1050},
{"d":"J","s":"A","w":1680,"g":2,"b":1950,"k":1450,"m":1450,"o":1150,"r":1100,"a":1150},
{"d":"J","s":"A","w":1785,"g":2,"b":1250,"k":1050,"m":1100,"o":800,"r":750,"a":800},
{"d":"J","s":"A","w":2190,"g":3,"b":650,"k":400,"m":350,"o":300,"r":350,"a":300},
{"d":"J","s":"A","w":2220,"g":3,"b":450,"k":350,"m":420,"o":350,"r":300,"a":400},
{"d":"J","s":"A","w":2254,"g":3,"b":550,"k":450,"m":380,"o":300,"r":400,"a":350},

{"d":"J","s":"B","w":478,"g":1,"k":100,"m":100,"r":100,"b":100,"a":100,"o":100,"t":100},
{"d":"J","s":"B","w":550,"g":1,"k":400,"m":400,"r":400,"b":400,"a":400,"o":400,"t":400},
{"d":"J","s":"B","w":660,"g":1,"k":190,"m":190,"r":190,"b":190,"a":190,"o":190,"t":190},
{"d":"J","s":"B","w":700,"g":1,"k":260,"m":260,"r":250,"b":250,"a":250,"o":240,"t":240},
{"d":"J","s":"B","w":740,"g":1,"k":2000,"m":1900,"r":1800,"b":1650,"a":1550,"o":1400,"t":1300},
{"d":"J","s":"B","w":800,"g":1,"k":3125,"m":3000,"r":2850,"b":2580,"a":2450,"o":2170,"t":1970},
{"d":"J","s":"B","w":860,"g":1,"k":3500,"m":3300,"r":3200,"b":2850,"a":2600,"o":2350,"t":2100},
{"d":"J","s":"B","w":920,"g":1,"k":3650,"m":3400,"r":3350,"b":3050,"a":2850,"o":2550,"t":2300},
{"d":"J","s":"B","w":980,"g":1,"k":3650,"m":3450,"r":3400,"b":3200,"a":3000,"o":2750,"t":2450},
{"d":"J","s":"B","w":1060,"g":1,"k":3800,"m":3750,"r":3650,"b":3550,"a":3350,"o":3150,"t":2850},
{"d":"J","s":"B","w":1110,"g":1,"k":3900,"m":3950,"r":3800,"b":3700,"a":3500,"o":3300,"t":3000},
{"d":"J","s":"B","w":1160,"g":1,"k":2990,"m":3130,"r":2720,"b":2650,"a":2580,"o":2450,"t":2040},
{"d":"J","s":"B","w":1240,"g":1,"k":3130,"m":3330,"r":2990,"b":2920,"a":2790,"o":2650,"t":2450},
{"d":"J","s":"B","w":1290,"g":1,"k":3100,"m":3300,"r":2950,"b":2900,"a":2800,"o":2650,"t":2450},
{"d":"J","s":"B","w":1335,"g":1,"k":2300,"m":2350,"r":2170,"b":2100,"a":2000,"o":1900,"t":1700},
{"d":"J","s":"B","w":1490,"g":2,"k":750,"m":800,"r":700,"b":700,"a":650,"o":650,"t":600},
{"d":"J","s":"B","w":1580,"g":2,"k":1250,"m":1350,"r":1150,"b":1150,"a":1100,"o":1050,"t":1000},
{"d":"J","s":"B","w":1680,"g":2,"k":1450,"m":1500,"r":1350,"b":1300,"a":1250,"o":1200,"t":1100},
{"d":"J","s":"B","w":1785,"g":2,"k":1100,"m":1050,"r":950,"b":950,"a":900,"o":900,"t":850},
{"d":"J","s":"B","w":2190,"g":3,"k":550,"m":500,"r":450,"b":500,"a":450,"o":400,"t":500},
{"d":"J","s":"B","w":2220,"g":3,"k":450,"m":550,"r":500,"b":450,"a":500,"o":450,"t":550},
{"d":"J","s":"B","w":2254,"g":3,"k":500,"m":450,"r":550,"b":500,"a":450,"o":500,"t":450},

{"d":"J","s":"C","w":478,"g":1,"a":100,"b":100,"r":100,"k":100,"t":100},
{"d":"J","s":"C","w":550,"g":1,"a":420,"b":420,"r":420,"k":420,"t":420},
{"d":"J","s":"C","w":660,"g":1,"a":190,"b":190,"r":190,"k":190,"t":190},
{"d":"J","s":"C","w":700,"g":1,"a":260,"b":260,"r":250,"k":250,"t":240},
{"d":"J","s":"C","w":740,"g":1,"a":1800,"b":1700,"r":1550,"k":1500,"t":1300},
{"d":"J","s":"C","w":800,"g":1,"a":2950,"b":2800,"r":2530,"k":2470,"t":2120},
{"d":"J","s":"C","w":860,"g":1,"a":3300,"b":3150,"r":2750,"k":2800,"t":2250},
{"d":"J","s":"C","w":920,"g":1,"a":3500,"b":3290,"r":2950,"k":2950,"t":2400},
{"d":"J","s":"C","w":980,"g":1,"a":3770,"b":3290,"r":3150,"k":2810,"t":2600},
{"d":"J","s":"C","w":1060,"g":1,"a":3970,"b":3430,"r":3220,"k":3010,"t":2740},
{"d":"J","s":"C","w":1110,"g":1,"a":4040,"b":3430,"r":3150,"k":2950,"t":2670},
{"d":"J","s":"C","w":1160,"g":1,"a":3080,"b":2670,"r":2600,"k":2260,"t":2120},
{"d":"J","s":"C","w":1240,"g":1,"a":3220,"b":2670,"r":2600,"k":2330,"t":2260},
{"d":"J","s":"C","w":1290,"g":1,"a":3220,"b":2670,"r":2530,"k":2300,"t":2280},
{"d":"J","s":"C","w":1335,"g":1,"a":2260,"b":2120,"r":1990,"k":1850,"t":1580},
{"d":"J","s":"C","w":1490,"g":2,"a":650,"b":620,"r":620,"k":620,"t":600},
{"d":"J","s":"C","w":1580,"g":2,"a":1160,"b":980,"r":960,"k":940,"t":920},
{"d":"J","s":"C","w":1680,"g":2,"a":1480,"b":1160,"r":1150,"k":1040,"t":1030},
{"d":"J","s":"C","w":1785,"g":2,"a":850,"b":820,"r":820,"k":800,"t":780},
{"d":"J","s":"C","w":2190,"g":3,"a":600,"b":350,"r":300,"k":350,"t":400},
{"d":"J","s":"C","w":2220,"g":3,"a":500,"b":400,"r":350,"k":300,"t":350},
{"d":"J","s":"C","w":2254,"g":3,"a":650,"b":350,"r":400,"k":350,"t":300},

{"d":"J","s":"H","w":478,"g":1,"r":100,"a":100,"b":100,"k":100},
{"d":"J","s":"H","w":550,"g":1,"r":420,"a":420,"b":420,"k":420},
{"d":"J","s":"H","w":660,"g":1,"r":190,"a":190,"b":190,"k":190},
{"d":"J","s":"H","w":700,"g":1,"r":250,"a":250,"b":250,"k":240},
{"d":"J","s":"H","w":740,"g":1,"r":1600,"a":1600,"b":1550,"k":1350},
{"d":"J","s":"H","w":800,"g":1,"r":2560,"a":2620,"b":2500,"k":2090},
{"d":"J","s":"H","w":860,"g":1,"r":2970,"a":3000,"b":2900,"k":2230},
{"d":"J","s":"H","w":920,"g":1,"r":3040,"a":3100,"b":3000,"k":2360},
{"d":"J","s":"H","w":980,"g":1,"r":3240,"a":3300,"b":3170,"k":2560},
{"d":"J","s":"H","w":1060,"g":1,"r":3680,"a":3550,"b":3320,"k":3050},
{"d":"J","s":"H","w":1110,"g":1,"r":3500,"a":3400,"b":3200,"k":2920},
{"d":"J","s":"H","w":1160,"g":1,"r":3100,"a":2970,"b":2900,"k":2090},
{"d":"J","s":"H","w":1240,"g":1,"r":2900,"a":2850,"b":2770,"k":2630},
{"d":"J","s":"H","w":1290,"g":1,"r":2970,"a":2850,"b":2750,"k":2560},
{"d":"J","s":"H","w":1335,"g":1,"r":2090,"a":2050,"b":2000,"k":1950},
{"d":"J","s":"H","w":1490,"g":2,"r":675,"a":675,"b":675,"k":675},
{"d":"J","s":"H","w":1580,"g":2,"r":1010,"a":1050,"b":990,"k":1000},
{"d":"J","s":"H","w":1680,"g":2,"r":1350,"a":1300,"b":1280,"k":1250},
{"d":"J","s":"H","w":1785,"g":2,"r":1010,"a":950,"b":900,"k":980},
{"d":"J","s":"H","w":2190,"g":3,"r":450,"a":400,"b":350,"k":400},
{"d":"J","s":"H","w":2220,"g":3,"r":350,"a":450,"b":400,"k":500},
{"d":"J","s":"H","w":2254,"g":3,"r":500,"a":350,"b":300,"k":350},

{"d":"J","s":"P","w":478,"g":1,"m":100,"a":100,"b":100,"c":100,"k":100,"r":100},
{"d":"J","s":"P","w":550,"g":1,"m":430,"a":430,"b":430,"c":430,"k":430,"r":430},
{"d":"J","s":"P","w":660,"g":1,"m":190,"a":190,"b":190,"c":190,"k":190,"r":190},
{"d":"J","s":"P","w":700,"g":1,"m":260,"a":250,"b":250,"c":250,"k":250,"r":240},
{"d":"J","s":"P","w":740,"g":1,"m":1700,"a":1550,"b":1500,"c":1450,"k":1450,"r":1200},
{"d":"J","s":"P","w":800,"g":1,"m":2760,"a":2560,"b":2420,"c":2300,"k":2360,"r":1880},
{"d":"J","s":"P","w":860,"g":1,"m":2960,"a":2620,"b":2550,"c":2490,"k":2490,"r":2150},
{"d":"J","s":"P","w":920,"g":1,"m":3430,"a":2960,"b":2830,"c":2760,"k":2820,"r":2350},
{"d":"J","s":"P","w":980,"g":1,"m":3290,"a":3020,"b":2960,"c":2890,"k":2890,"r":2420},
{"d":"J","s":"P","w":1060,"g":1,"m":3830,"a":3430,"b":3290,"c":3160,"k":3160,"r":2620},
{"d":"J","s":"P","w":1110,"g":1,"m":4170,"a":3560,"b":3360,"c":3230,"k":3160,"r":2690},
{"d":"J","s":"P","w":1160,"g":1,"m":3360,"a":3160,"b":3090,"c":3020,"k":3020,"r":2690},
{"d":"J","s":"P","w":1240,"g":1,"m":2820,"a":2760,"b":2960,"c":2890,"k":2960,"r":2420},
{"d":"J","s":"P","w":1290,"g":1,"m":3020,"a":2960,"b":2820,"c":2890,"k":3020,"r":2550},
{"d":"J","s":"P","w":1335,"g":1,"m":1880,"a":1880,"b":1880,"c":1880,"k":1750,"r":1880},
{"d":"J","s":"P","w":1490,"g":2,"m":670,"a":670,"b":670,"c":670,"k":670,"r":670},
{"d":"J","s":"P","w":1580,"g":2,"m":1210,"a":1210,"b":1210,"c":1210,"k":1210,"r":1150},
{"d":"J","s":"P","w":1680,"g":2,"m":1410,"a":1410,"b":1410,"c":1410,"k":1410,"r":1280},
{"d":"J","s":"P","w":1785,"g":2,"m":940,"a":940,"b":940,"c":940,"k":940,"r":900},
{"d":"J","s":"P","w":2190,"g":3,"m":400,"a":420,"b":380,"c":400,"k":420,"r":380},
{"d":"J","s":"P","w":2220,"g":3,"m":420,"a":380,"b":400,"c":420,"k":380,"r":400},
{"d":"J","s":"P","w":2254,"g":3,"m":380,"a":400,"b":420,"c":380,"k":400,"r":420}
]
},
"vconcat": [
  {"hconcat": [
    {
      "bounds": "flush",
      "data": {"name": "dates"},
      "facet": {"row": {"field": "d", "type": "nominal", "sort": ["M","N","D","J"], "header": null}},
      "spec": {
        "width": 33, "height": 383,
        "mark": {"type": "text", "angle": 270, "fontSize": 14, "font": "Liberation Serif", "color": "#000", "align": "center", "baseline": "middle"},
        "encoding": {"text": {"field": "label", "type": "nominal"}}
      }
    },
    {
      "bounds": "flush",
      "data": {"name": "spectra"},
      "transform": [
        {"fold": ["b","r","k","m","o","a","t","c"]},
        {"filter": "isValid(datum.value)"}
      ],
      "facet": {
        "row": {"field": "d", "type": "nominal", "sort": ["M","N","D","J"], "header": null},
        "column": {"field": "s", "type": "nominal", "sort": ["A","B","C","H","P"], "header": null}
      },
      "resolve": {"axis": {"x": "independent", "y": "independent"}},
      "spec": {
        "width": 180, "height": 383,
        "mark": {"type": "line", "strokeWidth": 1, "interpolate": "catmull-rom"},
        "encoding": {
          "x": {"field": "value", "type": "quantitative",
                "scale": {"domain": [0, 5000], "range": [150, 26], "nice": false, "zero": false},
                "axis": {"orient": "bottom", "offset": -28, "values": [0,1000,2000,3000,4000,5000], "format": "d",
                         "labelAngle": 270, "labelAlign": "right", "labelBaseline": "middle", "labelFont": "Liberation Serif",
                         "labelFontSize": 7.5, "labelColor": "#000", "labelPadding": 2, "labelFlush": false, "labelOverlap": false,
                         "tickSize": 3, "tickColor": "#000", "domainColor": "#000", "domainWidth": 1, "grid": false, "title": null}},
          "y": {"field": "w", "type": "quantitative",
                "scale": {"domain": [478, 2254], "range": [355, 26], "nice": false, "zero": false},
                "axis": {"orient": "right", "offset": -30, "values": [478,641,803,963,1124,1286,1447,1609,1770,1931,2093,2254], "format": "d",
                         "labelAngle": 270, "labelAlign": "center", "labelBaseline": "top", "labelFont": "Liberation Serif",
                         "labelFontSize": 7.5, "labelColor": "#000", "labelPadding": 4, "labelFlush": false, "labelOverlap": false,
                         "ticks": false, "domainColor": "#000", "domainWidth": 1, "grid": false, "title": null}},
          "color": {"field": "key", "type": "nominal",
                    "scale": {"domain": ["b","r","k","m","o","a","t","c"],
                              "range": ["#3366FF","#FF0000","#000000","#800000","#FF9900","#808080","#008080","#00DDEE"]},
                    "legend": null},
          "detail": {"field": "g", "type": "nominal"},
          "order": {"field": "w", "type": "quantitative"}
        }
      }
    }
  ]},
  {"hconcat": [
    {
      "width": 33, "height": 34,
      "data": {"values": [{"label": ""}]},
      "mark": {"type": "text"},
      "encoding": {"text": {"field": "label", "type": "nominal"}}
    },
    {
      "bounds": "flush",
      "data": {"name": "species"},
      "facet": {"column": {"field": "s", "type": "nominal", "sort": ["A","B","C","H","P"], "header": null}},
      "spec": {
        "width": 180, "height": 34,
        "mark": {"type": "text", "angle": 180, "fontSize": 13, "font": "Liberation Serif", "fontStyle": "italic", "fontWeight": "bold", "color": "#000", "align": "center", "baseline": "middle"},
        "encoding": {"text": {"field": "label", "type": "nominal"}}
      }
    }
  ]}
]
}
